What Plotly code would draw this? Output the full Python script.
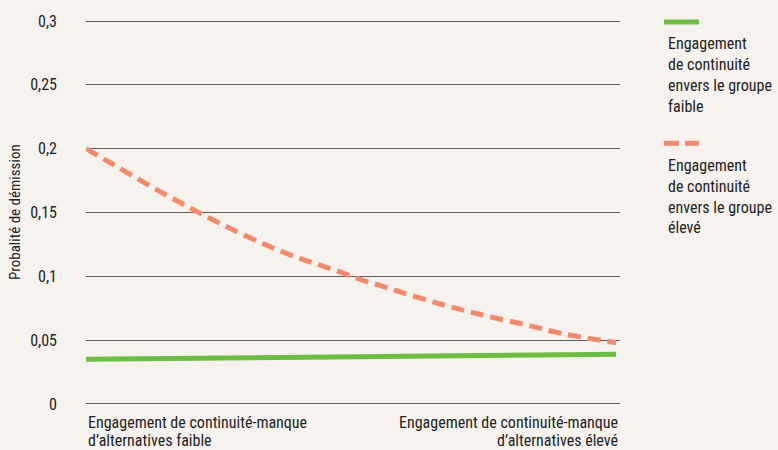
import plotly.graph_objects as go

# ---- data ----
x_categories = ["Engagement de continuité-manque<br>d’alternatives faible",
                "Engagement de continuité-manque<br>d’alternatives élevé"]
y_tick_vals = [0, 0.05, 0.1, 0.15, 0.2, 0.25, 0.3]
y_tick_text = ["0", "0,05", "0,1", "0,15", "0,2", "0,25", "0,3"]

low_name = "Engagement<br>de continuité<br>envers le groupe<br>faible"
high_name = "Engagement<br>de continuité<br>envers le groupe<br>élevé"

low_x = [0, 1]
low_y = [0.035, 0.039]

high_x = [0, 0.05, 0.12, 0.19, 0.26, 0.34, 0.40, 0.44, 0.48, 0.52, 0.56, 0.6, 0.68, 0.75, 0.83, 0.9, 1.0]
high_y = [0.200, 0.188, 0.171, 0.155, 0.140, 0.1245, 0.1145, 0.1089, 0.1033, 0.0972, 0.0921,
          0.0868, 0.077, 0.0695, 0.062, 0.055, 0.048]

y_title = "Probalité de démission"

# ---- style ----
FONT = "Liberation Sans Narrow, Roboto Condensed, Arial Narrow, sans-serif"
BG = "#f6f3ef"
GREEN = "#6dbd45"
RED = "#f4896b"
TXT = "#222222"
GRID = "#5e5e5e"

fig = go.Figure()
fig.add_trace(go.Scatter(x=low_x, y=low_y, mode="lines",
                         line=dict(color=GREEN, width=5), showlegend=False, hoverinfo="skip"))
fig.add_trace(go.Scatter(x=high_x, y=high_y, mode="lines", line_shape="spline",
                         line=dict(color=RED, width=5, dash="13px,7px"), showlegend=False,
                         hoverinfo="skip"))

# geometry helpers (figure pixels -> paper coords); plot area 86..620 x 17..406
PL, PR, PT, PB = 86, 620, 17, 406

def px_x(x):
    return (x - PL) / (PR - PL)

def px_y(y):
    return (PB - y) / (PB - PT)

# x labels as annotations aligned to the plot edges, one line each
for label, xa, anchor in [(x_categories[0], 0, "left"), (x_categories[1], 1, "right")]:
    for i, line in enumerate(label.split("<br>")):
        fig.add_annotation(x=xa, y=px_y(423 + 18 * i), xref="paper", yref="paper", text=line,
                           xanchor=anchor, yanchor="middle", align=anchor, showarrow=False,
                           font=dict(family=FONT, size=16, color=TXT))

# y title
fig.add_annotation(x=px_x(15), y=px_y(211), xref="paper", yref="paper", text=y_title,
                   textangle=-90, xanchor="center", yanchor="middle", showarrow=False,
                   font=dict(family=FONT, size=15, color=TXT))

# custom legend
def legend_entry(y_px, color, dash, name):
    fig.add_shape(type="line", xref="paper", yref="paper",
                  x0=px_x(664), x1=px_x(699), y0=px_y(y_px), y1=px_y(y_px),
                  line=dict(color=color, width=5, dash=dash))
    for i, line in enumerate(name.split("<br>")):
        fig.add_annotation(x=px_x(666), y=px_y(y_px + 22 + 21 * i),
                           xref="paper", yref="paper", text=line, xanchor="left",
                           yanchor="middle", showarrow=False,
                           font=dict(family=FONT, size=16, color=TXT))

legend_entry(20, GREEN, "solid", low_name)
legend_entry(142, RED, "15px,6px", high_name)

fig.update_layout(
    width=778, height=450,
    margin=dict(l=PL, r=778 - PR, t=PT, b=450 - PB),
    paper_bgcolor=BG, plot_bgcolor=BG,
    font=dict(family=FONT, size=16, color=TXT),
    xaxis=dict(range=[0, 1.0075], showgrid=False, zeroline=False, showticklabels=False,
               showline=False, fixedrange=True),
    yaxis=dict(range=[-0.0016, 0.3016], tickvals=y_tick_vals, ticktext=y_tick_text,
               showgrid=True, gridcolor=GRID, gridwidth=1, zeroline=False,
               ticklabelstandoff=28, showline=False, fixedrange=True),
    showlegend=False,
)

fig.write_html("out.html", config={"displayModeBar": False},
               post_script="document.body.style.margin='0';")
